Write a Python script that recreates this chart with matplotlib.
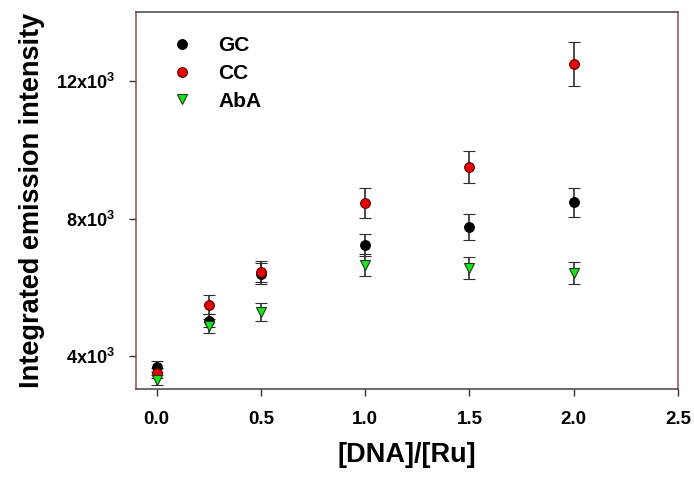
import matplotlib
matplotlib.use('Agg')
import matplotlib.pyplot as plt
import numpy as np

plt.rcParams['font.family'] = ['Liberation Sans', 'DejaVu Sans']
plt.rcParams['mathtext.fontset'] = 'custom'
plt.rcParams['mathtext.rm'] = 'Liberation Sans:bold'
plt.rcParams['mathtext.bf'] = 'Liberation Sans:bold'

ratio = [0.0, 0.25, 0.5, 1.0, 1.5, 2.0]

gc = [3690, 5030, 6390, 7220, 7750, 8470]
gc_err = [165, 200, 305, 320, 385, 425]

cc = [3500, 5490, 6450, 8460, 9490, 12500]
cc_err = [150, 280, 310, 430, 465, 635]

aba = [3300, 4870, 5290, 6650, 6550, 6425]
aba_err = [145, 210, 265, 310, 320, 325]

yticks = [4000, 8000, 12000]
ytick_labels = ['4x10$^{3}$', '8x10$^{3}$', '12x10$^{3}$']
xticks = [0.0, 0.5, 1.0, 1.5, 2.0, 2.5]

fig = plt.figure(figsize=(6.94, 4.79), dpi=100)
ax = fig.add_axes([0.1955, 0.188, 0.7815, 0.786])

series = [
    ('GC', gc, gc_err, 'o', 'black', 'black'),
    ('CC', cc, cc_err, 'o', '#e60000', '#5a0000'),
    ('AbA', aba, aba_err, 'v', '#19e619', '#1a3a1a'),
]
for name, vals, errs, mk, fc, ec in series:
    ax.errorbar(ratio, vals, yerr=errs, fmt=mk, ms=7 if mk == 'o' else 7.5,
                mfc=fc, mec=ec, mew=0.8, ecolor='#2e2e2e', elinewidth=1.2,
                capsize=4.5, capthick=1.2, label=name)

ax.set_xlim(-0.1, 2.5)
ax.set_ylim(3040, 14000)
ax.set_xticks(xticks)
ax.set_xticklabels(['%.1f' % t for t in xticks], fontsize=13.5, fontweight='bold')
ax.set_yticks(yticks)
ax.set_yticklabels(ytick_labels, fontsize=13, fontweight='bold')
ax.tick_params(direction='out', length=5, width=1, color='#333333')
ax.tick_params(axis='x', pad=11)
ax.tick_params(axis='y', pad=10)

for side in ['left', 'right']:
    ax.spines[side].set_color('#9a4a4a')
for side in ['top', 'bottom']:
    ax.spines[side].set_color('#444444')
for sp in ax.spines.values():
    sp.set_linewidth(1.1)

ax.set_xlabel('[DNA]/[Ru]', fontsize=19.5, fontweight='bold', labelpad=10)
ax.set_ylabel('Integrated emission intensity', fontsize=19.5, fontweight='bold', labelpad=8)

handles, labels = ax.get_legend_handles_labels()
handles = [h[0] for h in handles]
leg = ax.legend(handles, labels, loc='upper left', bbox_to_anchor=(0.055, 0.959),
                borderaxespad=0, frameon=False, prop={'size': 15, 'weight': 'bold'},
                handletextpad=1.33, labelspacing=0.42, handlelength=0.8)

fig.savefig('out.png', dpi=100)
